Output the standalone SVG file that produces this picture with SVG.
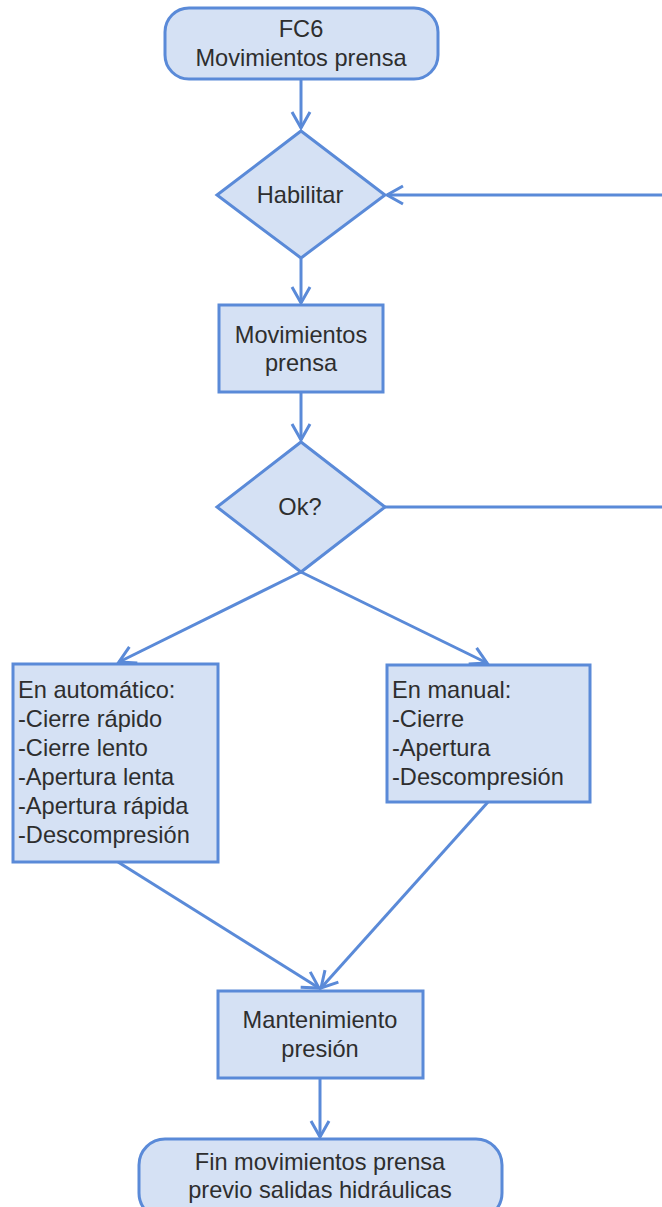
<svg xmlns="http://www.w3.org/2000/svg" width="662" height="1207" viewBox="0 0 662 1207">
  <defs>
    <style>
      .node { fill: #d5e1f4; stroke: #5a8ad8; stroke-width: 3; }
      .edge { fill: none; stroke: #5a8ad8; stroke-width: 3; }
      .lbl { font-family: "Liberation Sans", Arial, sans-serif; font-size: 23.6px; fill: #2e2e2e; }
      .c { text-anchor: middle; }
    </style>
    <marker id="arrow" markerUnits="userSpaceOnUse" markerWidth="24" markerHeight="24" viewBox="-20 -12 24 24" refX="0" refY="0" orient="auto">
      <path d="M-16,-9 L0,0 L-16,9" fill="none" stroke="#5a8ad8" stroke-width="3" stroke-linejoin="miter"/>
    </marker>
  </defs>

  <!-- connectors -->
  <g id="connectors">
    <line class="edge" x1="301" y1="80" x2="301" y2="128" marker-end="url(#arrow)"/>
    <line class="edge" x1="662" y1="195" x2="387" y2="195" marker-end="url(#arrow)"/>
    <line class="edge" x1="301" y1="259" x2="301" y2="303" marker-end="url(#arrow)"/>
    <line class="edge" x1="301" y1="393" x2="301" y2="440" marker-end="url(#arrow)"/>
    <line class="edge" x1="385" y1="507" x2="662" y2="507"/>
    <line class="edge" x1="301" y1="572" x2="119" y2="662" marker-end="url(#arrow)"/>
    <line class="edge" x1="301" y1="572" x2="487" y2="663" marker-end="url(#arrow)"/>
    <line class="edge" x1="118" y1="862" x2="319" y2="988" marker-end="url(#arrow)"/>
    <line class="edge" x1="488" y1="802" x2="321" y2="988" marker-end="url(#arrow)"/>
    <line class="edge" x1="320" y1="1079" x2="320" y2="1137" marker-end="url(#arrow)"/>
  </g>

  <!-- start terminal -->
  <g id="start">
    <rect class="node" x="165" y="8" width="273" height="71" rx="24" ry="24"/>
    <text class="lbl c" x="301" y="37">FC6</text>
    <text class="lbl c" x="301" y="66">Movimientos prensa</text>
  </g>

  <!-- enable decision -->
  <g id="habilitar">
    <polygon class="node" points="301,131 385,195 301,258 217,195"/>
    <text class="lbl c" x="300" y="203">Habilitar</text>
  </g>

  <!-- press movements process -->
  <g id="movimientos">
    <rect class="node" x="219" y="305" width="164" height="87"/>
    <text class="lbl c" x="301" y="343">Movimientos</text>
    <text class="lbl c" x="301" y="371">prensa</text>
  </g>

  <!-- ok decision -->
  <g id="ok">
    <polygon class="node" points="301,442 385,507 301,572 217,507"/>
    <text class="lbl c" x="300" y="515">Ok?</text>
  </g>

  <!-- automatic mode -->
  <g id="automatico">
    <rect class="node" x="13" y="664" width="205" height="198"/>
    <text class="lbl" x="18" y="698">En automático:</text>
    <text class="lbl" x="18" y="727">-Cierre rápido</text>
    <text class="lbl" x="18" y="756">-Cierre lento</text>
    <text class="lbl" x="18" y="785">-Apertura lenta</text>
    <text class="lbl" x="18" y="814">-Apertura rápida</text>
    <text class="lbl" x="18" y="843">-Descompresión</text>
  </g>

  <!-- manual mode -->
  <g id="manual">
    <rect class="node" x="387" y="665" width="203" height="137"/>
    <text class="lbl" x="392" y="698">En manual:</text>
    <text class="lbl" x="392" y="727">-Cierre</text>
    <text class="lbl" x="392" y="756">-Apertura</text>
    <text class="lbl" x="392" y="785">-Descompresión</text>
  </g>

  <!-- pressure hold -->
  <g id="mantenimiento">
    <rect class="node" x="218" y="991" width="205" height="87"/>
    <text class="lbl c" x="320" y="1028">Mantenimiento</text>
    <text class="lbl c" x="320" y="1057">presión</text>
  </g>

  <!-- end terminal -->
  <g id="fin">
    <rect class="node" x="139" y="1139" width="363" height="80" rx="26" ry="26"/>
    <text class="lbl c" x="320" y="1170">Fin movimientos prensa</text>
    <text class="lbl c" x="320" y="1198">previo salidas hidráulicas</text>
  </g>
</svg>
